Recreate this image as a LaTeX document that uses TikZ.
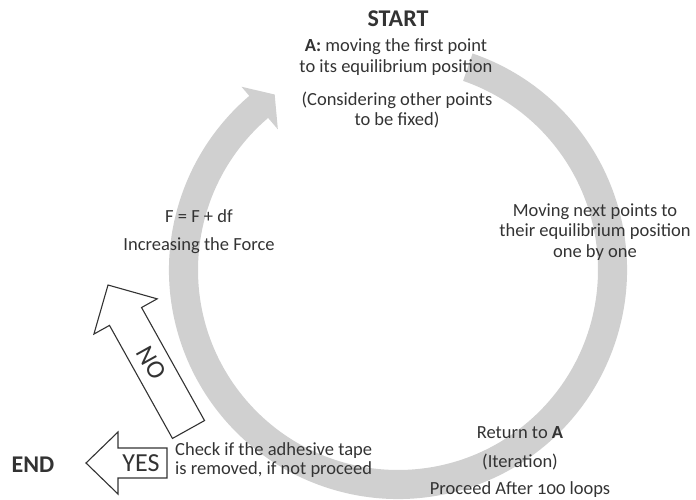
\documentclass[tikz,border=0pt]{standalone}
\usepackage{tikz}
\usepackage{fontspec}
\setmainfont{Carlito}[Numbers=OldStyle]
\definecolor{ringgray}{RGB}{208,208,208}
\definecolor{txt}{RGB}{51,51,51}
\begin{document}
\begin{tikzpicture}[x=1pt,y=1pt,
  lbl/.style={text=txt, font=\fontsize{18.5}{20.5}\selectfont, align=center, inner sep=0pt},
  big/.style={text=txt, font=\fontsize{24}{28}\selectfont\bfseries, inner sep=0pt},
  arrtxt/.style={text=txt, font=\fontsize{26}{30}\selectfont, inner sep=0pt},
  outl/.style={draw=txt, line width=1.1pt, fill=white, line join=miter}]
\useasboundingbox (0,0) rectangle (696,499);

% circular grey arrow
\begin{scope}[shift={(398,229)}]
  \fill[ringgray] (71:229pt) arc[start angle=71, end angle=-229.5, radius=229pt]
    -- (130.5:241pt) -- (125.1:214.5pt) -- (130.5:185pt) -- (130.5:200pt)
    arc[start angle=-229.5, end angle=71, radius=200pt] -- cycle;
\end{scope}

% texts
\node[big] (start) at (398,480) {START};
\node[lbl] (a) at (396,442) {\textbf{A:} moving the first point\\to its equilibrium position};
\node[lbl] (cons) at (397,389) {(Considering other points\\to be fixed)};
\node[lbl] (moving) at (595,267) {Moving next points to\\their equilibrium position\\one by one};
\node[lbl] (ff) at (199,283) {F = F + df};
\node[lbl] (incr) at (199,253) {Increasing the Force};
\node[lbl] (ret) at (520,66) {Return to \textbf{A}};
\node[lbl] (iter) at (520,37) {(Iteration)};
\node[lbl] (proc) at (520,9) {Proceed After 100 loops};
\node[lbl, align=left, anchor=west, font=\fontsize{18.5}{19}\selectfont] (check) at (175,39) {Check if the adhesive tape\\is removed, if not proceed};
\node[big] (end) at (33,34) {END};

% YES arrow
\draw[outl] (167,51) -- (118,51) -- (118,67) -- (86,36) -- (118,5) -- (118,21) -- (167,21) -- cycle;
\node[arrtxt] (yes) at (141,36) {YES};

% NO arrow
\begin{scope}[shift={(188.5,69.5)}, rotate=119.12]
  \draw[outl] (0,-18.35) -- (129.4,-18.35) -- (129.4,-36.2) -- (165.4,0)
    -- (129.4,36.2) -- (129.4,18.35) -- (0,18.35) -- cycle;
  \node[arrtxt, rotate=-60.88] (no) at (76,0) {NO};
\end{scope}
\end{tikzpicture}
\end{document}
